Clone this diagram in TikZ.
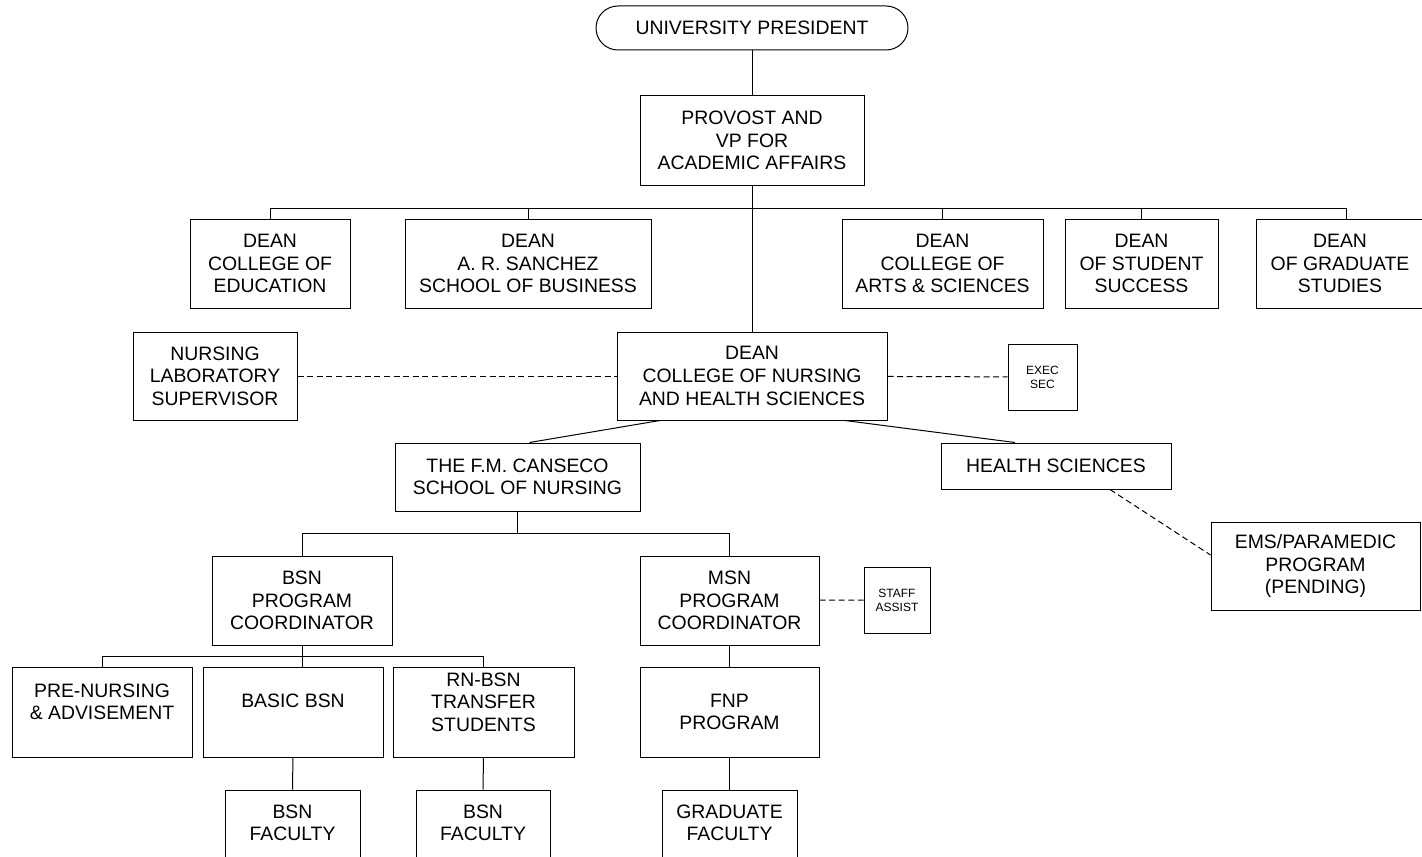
\documentclass[tikz,border=0pt]{standalone}
\usepackage{fontspec}
\setmainfont{Liberation Sans}
\usepackage{tikz}
\usetikzlibrary{calc}
\newcommand{\orgfont}{\fontsize{9.7}{11.3}\selectfont}
\newcommand{\smallorgfont}{\fontsize{6}{7}\selectfont}

\begin{document}
\begin{tikzpicture}[x=0.5pt,y=-0.5pt,line width=0.5pt,
    box/.style={draw,rectangle,inner sep=0pt,align=center,font=\orgfont},
    smallbox/.style={box,font=\smallorgfont},
    txt/.style={inner sep=0pt,align=center,font=\orgfont},
    assist/.style={dash pattern=on 3pt off 1.8pt}]
    \useasboundingbox (0,0) rectangle (1422,856);

    \node[box,rounded corners=11pt,minimum width=156pt,minimum height=22pt] (pres) at (752,28) {UNIVERSITY PRESIDENT};
    \node[box,minimum width=112pt,minimum height=44.5pt] (prov) at (752,140.5) {PROVOST AND\\VP FOR\\ACADEMIC AFFAIRS};

    \node[box,minimum width=80pt,minimum height=44.5pt] (ded) at (270,263.5) {DEAN\\COLLEGE OF\\EDUCATION};
    \node[box,minimum width=123pt,minimum height=44.5pt] (dsb) at (528,263.5) {DEAN\\A. R. SANCHEZ\\SCHOOL OF BUSINESS};
    \node[box,minimum width=100.5pt,minimum height=44.5pt] (das) at (942.5,263.5) {DEAN\\COLLEGE OF\\ARTS \& SCIENCES};
    \node[box,minimum width=76.5pt,minimum height=44.5pt] (dss) at (1141.5,263.5) {DEAN\\OF STUDENT\\SUCCESS};
    \node[box,minimum width=84pt,minimum height=44.5pt] (dgs) at (1340,263.5) {DEAN\\OF GRADUATE\\STUDIES};

    \node[box,minimum width=82pt,minimum height=44pt] (lab) at (215,376) {NURSING\\LABORATORY\\SUPERVISOR};
    \node[box,minimum width=135pt,minimum height=44pt] (dn) at (752,376) {DEAN\\COLLEGE OF NURSING\\AND HEALTH SCIENCES};
    \node[smallbox,minimum width=34.5pt,minimum height=33pt] (es) at (1042.5,377) {EXEC\\SEC};

    \node[box,minimum width=122.5pt,minimum height=34pt] (cs) at (517.5,477) {THE F.M. CANSECO\\SCHOOL OF NURSING};
    \node[box,minimum width=115pt,minimum height=23pt] (hs) at (1056,466) {HEALTH SCIENCES};
    \node[box,minimum width=104.5pt,minimum height=44pt] (ems) at (1315.5,566) {EMS/PARAMEDIC\\PROGRAM\\(PENDING)};

    \node[box,minimum width=90pt,minimum height=44.5pt] (bpc) at (302,600.5) {BSN\\PROGRAM\\COORDINATOR};
    \node[box,minimum width=89.5pt,minimum height=44.5pt] (mpc) at (729.5,600.5) {MSN\\PROGRAM\\COORDINATOR};
    \node[smallbox,minimum width=33pt,minimum height=33pt] (sa) at (897,600) {STAFF\\ASSIST};

    \node[box,minimum width=90pt,minimum height=45pt] (pn) at (102,712) {};
    \node[box,minimum width=90pt,minimum height=45pt] (bb) at (293,712) {};
    \node[box,minimum width=90.5pt,minimum height=45pt] (rn) at (483.5,712) {};
    \node[box,minimum width=89.5pt,minimum height=45pt] (fnp) at (729.5,712) {};
    \node[txt] at (102,702) {PRE-NURSING\\\& ADVISEMENT};
    \node[txt] at (293,701) {BASIC BSN};
    \node[txt] at (483.5,702) {RN-BSN\\TRANSFER\\STUDENTS};
    \node[txt] at (729.5,712) {FNP\\PROGRAM};

    \node[box,minimum width=67.5pt,minimum height=40pt] (bf1) at (292.5,830) {};
    \node[box,minimum width=67pt,minimum height=40pt] (bf2) at (483,830) {};
    \node[box,minimum width=67.5pt,minimum height=40pt] (gf) at (729.5,830) {};
    \node[txt] at (292.5,823) {BSN\\FACULTY};
    \node[txt] at (483,823) {BSN\\FACULTY};
    \node[txt] at (729.5,823) {GRADUATE\\FACULTY};

    \coordinate (bar) at (752,208);
    \coordinate (cbar) at (517.5,533);
    \coordinate (bbar) at (302,656);

    \draw (pres) -- (prov);
    \draw (prov) -- (dn);
    \draw (ded.north |- bar) -- ($(dgs.north |- bar)+(6,0)$);
    \foreach \n in {ded,dsb,das,dss}
        \draw (\n.north) -- (\n.north |- bar);
    \draw ($(dgs.north)+(6,0)$) -- ($(dgs.north |- bar)+(6,0)$);

    \draw[assist] (lab) -- (dn);
    \draw[assist] (dn) -- (es);
    \draw ($(dn.south)+(-92,0)$) -- ($(cs.north)+(12,0)$);
    \draw ($(dn.south)+(93,0)$) -- ($(hs.north)+(-41,0)$);
    \draw[assist] ($(hs.south)+(54,0)$) -- ($(ems.west)+(0,-11)$);

    \draw (cs) -- (cbar);
    \draw (bpc.north) -- (bpc.north |- cbar) -- (mpc.north |- cbar) -- (mpc.north);
    \draw[assist] (mpc) -- (sa);

    \draw (bpc.south) -- (bpc.south |- bb.north);
    \draw (pn.north) -- (pn.north |- bbar) -- (rn.north |- bbar) -- (rn.north);
    \draw (mpc) -- (fnp);

    \draw (bb) -- (bf1);
    \draw (rn) -- (bf2);
    \draw (fnp) -- (gf);
\end{tikzpicture}
\end{document}
